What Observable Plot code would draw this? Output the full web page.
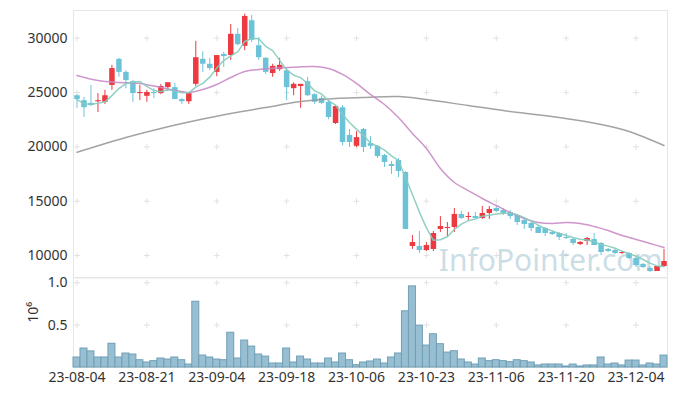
<!DOCTYPE html>
<html><head><meta charset="utf-8">
<script src="https://cdn.jsdelivr.net/npm/d3@7"></script>
<script src="https://cdn.jsdelivr.net/npm/@observablehq/plot@0.6"></script>
<style>
body{margin:0;background:#fff;}
#chart{width:677px;height:396px;position:relative;}
#chart svg{display:block;}
</style></head><body><div id="chart"></div>
<script>
const dates = ["23-08-04","23-08-07","23-08-08","23-08-09","23-08-10","23-08-11","23-08-14","23-08-16","23-08-17","23-08-18","23-08-21","23-08-22","23-08-23","23-08-24","23-08-25","23-08-28","23-08-29","23-08-30","23-08-31","23-09-01","23-09-04","23-09-05","23-09-06","23-09-07","23-09-08","23-09-11","23-09-12","23-09-13","23-09-14","23-09-15","23-09-18","23-09-19","23-09-20","23-09-21","23-09-22","23-09-25","23-09-26","23-09-27","23-10-04","23-10-05","23-10-06","23-10-10","23-10-11","23-10-12","23-10-13","23-10-16","23-10-17","23-10-18","23-10-19","23-10-20","23-10-23","23-10-24","23-10-25","23-10-26","23-10-27","23-10-30","23-10-31","23-11-01","23-11-02","23-11-03","23-11-06","23-11-07","23-11-08","23-11-09","23-11-10","23-11-13","23-11-14","23-11-15","23-11-16","23-11-17","23-11-20","23-11-21","23-11-22","23-11-23","23-11-24","23-11-27","23-11-28","23-11-29","23-11-30","23-12-01","23-12-04","23-12-05","23-12-06","23-12-07","23-12-08"];

const open = [24700,24250,24000,24150,24100,25650,28050,26850,26000,24900,24650,25000,24900,25450,25450,24350,24150,25750,28050,27600,26850,28500,28400,30350,29250,31600,29300,28150,26750,27100,27000,25350,25550,26000,24800,24450,24100,22150,23600,21050,20050,21600,20300,20050,19200,18380,18740,17640,10830,10830,10460,10560,12400,12490,12580,13780,13500,13590,13410,13870,14330,14140,13960,13680,13220,12950,12580,12490,12120,12030,11660,11480,11020,11290,11480,11110,10560,10460,10190,10190,9730,9180,8810,8530,8990];
const high = [24800,24550,25650,24900,25200,27500,28150,27000,26100,25650,25200,25350,25750,25900,25850,24450,24900,29700,28750,28150,28400,28700,31250,30900,32200,32100,30050,28200,27600,28150,27200,25900,25750,26400,24900,24650,24250,23800,23800,21600,21400,21700,20950,20100,19300,18650,18930,17730,11840,12210,11200,12210,13590,13040,14330,14050,13960,13960,14510,14510,14510,14330,14140,13780,13320,13040,12760,12580,12300,12120,12030,11570,11290,11660,12030,11200,10650,10560,10370,10280,9820,9270,8990,8990,10560];
const low = [23550,22700,23700,23150,23900,25200,26400,25350,24100,24250,24100,24450,24800,25100,24350,23900,23900,25550,26850,27000,26450,27300,27950,29300,28850,29600,27950,26650,26400,26950,24250,24700,23550,24650,23900,23900,22500,22050,20100,19940,19940,19480,19760,18930,18100,17460,17180,12400,10560,10190,10370,10370,12120,11750,12120,13320,13220,13410,13320,13320,13960,13680,13320,12760,12400,12210,12030,11750,11840,11380,11480,10920,10920,10920,10920,10000,10280,10100,10100,9640,8900,8810,8440,8530,8900];
const close = [24350,23600,23800,24250,24700,27200,26850,26100,24900,25000,25000,24900,25550,25900,24350,24150,24900,28200,27600,27200,28400,28300,30350,29400,32000,29800,28200,26850,27400,27500,25450,25750,25750,24700,24100,24000,22700,23700,20400,20400,20850,19940,20050,19110,18560,18190,17730,12400,11200,10460,10920,12030,12670,12580,13780,13410,13590,13410,13870,14240,14050,13870,13590,13040,12860,12490,12030,12030,11940,11660,11570,11110,11200,11570,10920,10280,10370,10190,10280,9730,9080,8900,8530,8990,9450];
const volumeM = [0.118,0.224,0.19,0.118,0.118,0.28,0.118,0.165,0.153,0.086,0.059,0.075,0.106,0.094,0.118,0.086,0.035,0.776,0.141,0.118,0.094,0.086,0.41,0.106,0.318,0.247,0.153,0.129,0.047,0.047,0.224,0.059,0.129,0.094,0.047,0.047,0.106,0.059,0.165,0.086,0.027,0.059,0.071,0.094,0.047,0.118,0.165,0.663,0.957,0.494,0.259,0.392,0.275,0.176,0.192,0.094,0.059,0.035,0.106,0.075,0.086,0.075,0.063,0.086,0.075,0.059,0.024,0.035,0.035,0.035,0.012,0.035,0.012,0.024,0.024,0.118,0.035,0.047,0.024,0.082,0.082,0.024,0.047,0.035,0.141];

// 20-day and 60-day moving averages (day index, value)
const ma20Idx = [0,3,6,9,12,15,16,18,20,22,24,26,30,34,36,38,40,42,44,46,48,50,52,54,56,58,60,62,64,66,68,70,72,74,76,78,80,82,84];
const ma20Val = [26560,26100,25920,25830,25460,25090,25000,25280,25740,26380,26930,27120,27300,27390,27210,26660,25830,24820,23900,22700,21230,19850,18010,16720,15980,15250,14600,13960,13410,13040,12950,13040,12950,12670,12300,11840,11480,11110,10740];
const ma60Idx = [0,7,12,17,22,27,32,37,41,46,50,56,61,69,75,79,84];
const ma60Val = [19500,20860,21690,22420,23070,23620,24170,24450,24540,24630,24360,23800,23340,22700,22060,21410,20120];

const xTickIdx = [0,10,20,30,40,50,60,70,80];
const priceTicks = [10000,15000,20000,25000,30000];
const volTicks = [0.5,1.0];

const RED = "#ec3a40", BLUE = "#6cc3d8";
const candles = dates.map((d,i)=>({i, date:d, open:open[i], high:high[i], low:low[i], close:close[i], vol:volumeM[i],
  color: close[i] >= open[i] ? RED : BLUE}));
const ma20 = ma20Idx.map((x,k)=>({x, y:ma20Val[k]}));
const ma60 = ma60Idx.map((x,k)=>({x, y:ma60Val[k]}));
const crossP = d3.cross(xTickIdx, priceTicks).map(([x,y])=>({x,y}));
const crossV = d3.cross(xTickIdx, volTicks).map(([x,y])=>({x,y}));

const font = {fontFamily:"'Noto Sans', sans-serif", fontSize:"14px", color:"#333", background:"transparent", overflow:"visible"};
const xDom = [-0.5, dates.length - 0.5];

const topPlot = Plot.plot({
  width:677, height:277, marginLeft:73, marginRight:10, marginTop:10, marginBottom:0,
  style: font,
  x:{domain:xDom, axis:null},
  y:{domain:[7980,32544], ticks:priceTicks, tickFormat:d3.format("d"), tickSize:0, tickPadding:6, label:null},
  marks:[
    Plot.frame({stroke:"#e6e6e6"}),
    Plot.dot(crossP, {x:"x", y:"y", symbol:"plus", r:2, stroke:"#e2e2e2", strokeWidth:1}),
    Plot.text(["InfoPointer.com"], {frameAnchor:"bottom-right", dx:-5, dy:-7, textAnchor:"end", lineAnchor:"bottom", fontSize:30, fill:"#a9c6d4", fillOpacity:0.6}),
    Plot.ruleX(candles, {x:"i", y1:"low", y2:"high", stroke:"color", strokeWidth:1}),
    Plot.ruleX(candles, {x:"i", y1:"open", y2:"close", stroke:"color", strokeWidth:5.5}),
    Plot.line(ma60, {x:"x", y:"y", stroke:"#999", strokeWidth:1.5, curve:"catmull-rom", strokeOpacity:0.9}),
    Plot.line(ma20, {x:"x", y:"y", stroke:"#c98bc6", strokeWidth:1.5, curve:"catmull-rom", strokeOpacity:0.9}),
    Plot.lineY(candles, Plot.windowY({k:5, anchor:"end", reduce:"mean"}, {x:"i", y:"close", stroke:"#85cbbf", strokeWidth:1.5, strokeOpacity:0.9}))
  ]
});

const botPlot = Plot.plot({
  width:677, height:119, marginLeft:73, marginRight:10, marginTop:0.5, marginBottom:29,
  style: font,
  x:{domain:xDom, ticks:xTickIdx, tickFormat:i=>dates[i], tickSize:0, tickPadding:5, label:null},
  y:{domain:[0,1.056], ticks:volTicks, tickFormat:d3.format(".1f"), tickSize:0, tickPadding:6, label:null},
  marks:[
    Plot.frame({stroke:"#e6e6e6"}),
    Plot.dot(crossV, {x:"x", y:"y", symbol:"plus", r:2, stroke:"#e2e2e2", strokeWidth:1}),
    Plot.rectY(candles, {x1:d=>d.i-0.5, x2:d=>d.i+0.5, y:"vol", fill:"#98bfd1", stroke:"#6f9fb7", strokeWidth:1}),
    Plot.text(["10⁶"], {frameAnchor:"left", dx:-40, rotate:-90, fontSize:14, fill:"#333"})
  ]
});

const host = document.getElementById("chart");
host.appendChild(topPlot);
host.appendChild(botPlot);
</script>
</body></html>
